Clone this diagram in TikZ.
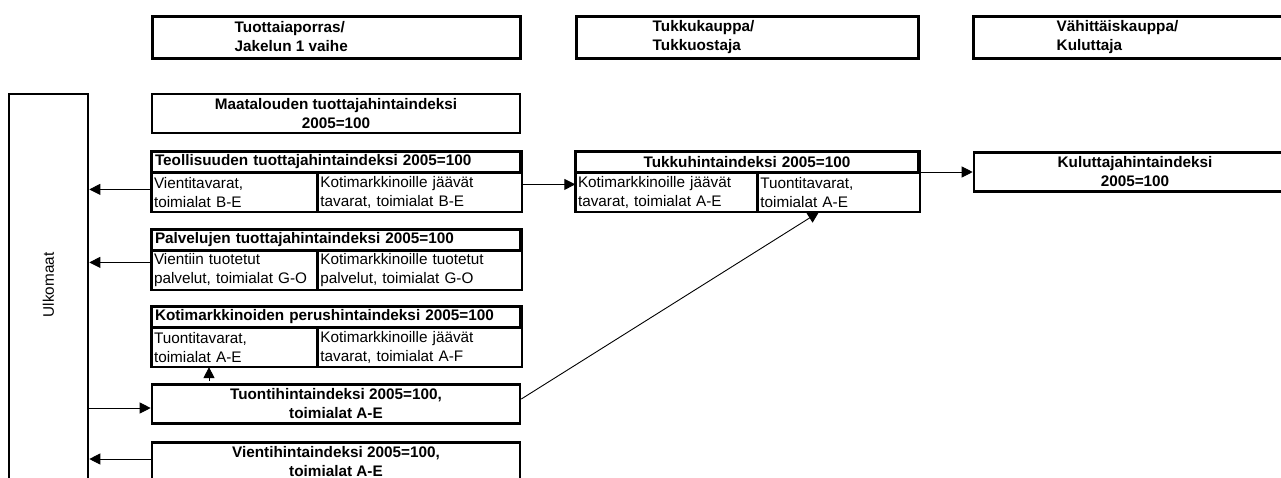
\documentclass[tikz,border=0pt]{standalone}
\usepackage{fontspec}
\setmainfont{Liberation Sans}
\usetikzlibrary{arrows.meta}
\usetikzlibrary{positioning}

\begin{document}
\fontsize{15.3}{19}\selectfont
\begin{tikzpicture}[x=1pt,y=-1pt]
\tikzset{stagebox/.style={draw,line width=3pt,minimum height=42pt,inner sep=0pt},
indexbox/.style={draw,line width=2.6pt,minimum width=368pt,minimum height=39pt,inner sep=0pt,align=center,font=\bfseries},
toprow/.style={draw,line width=1.4pt,minimum height=20pt,inner xsep=3pt,inner ysep=0pt,font=\bfseries},
subcell/.style={draw,line width=1.4pt,minimum height=38pt,inner xsep=2pt,inner ysep=0pt,align=left},
flow/.style={line width=0.9pt,-{Triangle[length=11pt,width=11pt]}}}
\useasboundingbox (0,0) rectangle (1281,477);
\clip (0,0) rectangle (1281,477);
% stages
\node[stagebox,minimum width=368pt](prod) at (336,37){};
\node[anchor=west,align=left,inner sep=0pt,font=\bfseries] at ([xshift=84pt]prod.west){Tuottaiaporras/\\Jakelun 1 vaihe};
\node[stagebox,minimum width=342pt](whole) at (747,37){};
\node[anchor=west,align=left,inner sep=0pt,font=\bfseries] at ([xshift=78pt]whole.west){Tukkukauppa/\\Tukkuostaja};
\node[stagebox,minimum width=324pt](retail) at (1135,37){};
\node[anchor=west,align=left,inner sep=0pt,font=\bfseries] at ([xshift=85pt]retail.west){Vähittäiskauppa/\\Kuluttaja};
% abroad
\node[draw,line width=2.6pt,minimum width=79pt,minimum height=420pt](ulko) at (48.5,304){};
\node[rotate=90] at (48.5,285){Ulkomaat};
% producer indices
\node[indexbox](maat) at (336,113.5){Maatalouden tuottajahintaindeksi\\2005=100};
\node[toprow,text width=362pt,align=left](teol) at (336,162){Teollisuuden tuottajahintaindeksi 2005=100};
\node[subcell,text width=161pt,below right=0pt of teol.south west](teola){Vientitavarat,\\toimialat B-E};
\node[subcell,text width=199pt,right=0pt of teola](teolb){Kotimarkkinoille jäävät\\tavarat, toimialat B-E};
\draw[line width=2.6pt](teol.north west) rectangle (teolb.south east);
\node[toprow,text width=362pt,align=left](palv) at (336,240){Palvelujen tuottajahintaindeksi 2005=100};
\node[subcell,text width=161pt,below right=0pt of palv.south west](palva){Vientiin tuotetut\\palvelut, toimialat G-O};
\node[subcell,text width=199pt,right=0pt of palva](palvb){Kotimarkkinoille tuotetut\\palvelut, toimialat G-O};
\draw[line width=2.6pt](palv.north west) rectangle (palvb.south east);
\node[toprow,text width=362pt,align=left](koti) at (336,317){Kotimarkkinoiden perushintaindeksi 2005=100};
\node[subcell,text width=161pt,below right=0pt of koti.south west](kotia){Tuontitavarat,\\toimialat A-E};
\node[subcell,text width=199pt,right=0pt of kotia](kotib){Kotimarkkinoille jäävät\\tavarat, toimialat A-F};
\draw[line width=2.6pt](koti.north west) rectangle (kotib.south east);
\node[indexbox](tuonti) at (336,404){Tuontihintaindeksi 2005=100,\\toimialat A-E};
\node[indexbox](vienti) at (336,462){Vientihintaindeksi 2005=100,\\toimialat A-E};
% wholesale and consumer
\node[toprow,text width=336pt,align=center](tukku) at (747,162){Tukkuhintaindeksi 2005=100};
\node[subcell,text width=177pt,below right=0pt of tukku.south west](tukkua){Kotimarkkinoille jäävät\\tavarat, toimialat A-E};
\node[subcell,text width=157pt,right=0pt of tukkua](tukkub){Tuontitavarat,\\toimialat A-E};
\draw[line width=2.6pt](tukku.north west) rectangle (tukkub.south east);
\node[indexbox,minimum width=322pt](kulu) at (1135,172){Kuluttajahintaindeksi\\2005=100};
% flows
\draw[flow]([yshift=3pt]teola.west) -- ([yshift=3pt]teola.west -| ulko.east);
\draw[flow]([yshift=8pt]palva.west) -- ([yshift=8pt]palva.west -| ulko.east);
\draw[flow]([yshift=-4pt]tuonti.west -| ulko.east) -- ([yshift=-4pt]tuonti.west);
\draw[flow]([yshift=3pt]vienti.west) -- ([yshift=3pt]vienti.west -| ulko.east);
\draw[flow]([xshift=-127pt,yshift=2.5pt]tuonti.north) -- ([xshift=-127pt]tuonti.north |- kotia.south);
\draw[flow]([yshift=8pt]teolb.east) -- ([yshift=8pt]teolb.east -| tukkua.west);
\draw[flow](kulu.west -| tukkub.east) -- (kulu.west);
\draw[flow]([yshift=5pt]tuonti.east) -- ([xshift=-20pt]tukkub.south);
\end{tikzpicture}
\end{document}
